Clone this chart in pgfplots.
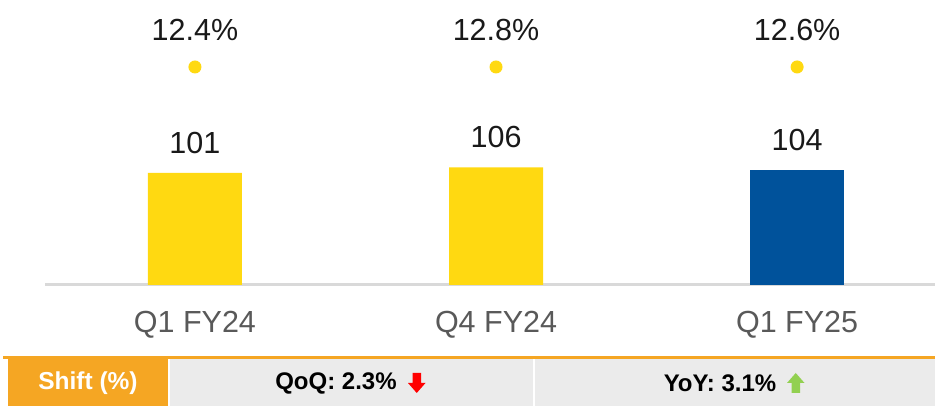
\documentclass[border=0pt]{standalone}
\usepackage{pgfplots}
\pgfplotsset{compat=1.18}
\usepackage{pgfplotstable}
\usepackage{fontspec}
\setmainfont{Liberation Sans}
\definecolor{cyel}{HTML}{FFD911}
\definecolor{cblue}{HTML}{00529B}
\definecolor{corange}{HTML}{F5A623}
\definecolor{cgray}{HTML}{EBEBEB}
\definecolor{cline}{HTML}{D9D9D9}
\definecolor{ctick}{HTML}{595959}
\definecolor{cred}{HTML}{FF0000}
\definecolor{cgreen}{HTML}{92D050}
\pgfplotstableread{
x y
0 101
1 106
}\yellowbars
\pgfplotstableread{
x y
2 104
}\bluebars
\pgfplotstableread{
x y label
0 196.6 12.4\%
1 196.6 12.8\%
2 196.6 12.6\%
}\dots
\begin{document}
\begin{tikzpicture}
\path[use as bounding box] (0,0) rectangle (374pt,-162.4pt);
\begin{axis}[
  at={(18pt,-114pt)}, anchor=south west,
  scale only axis, width=356pt, height=114pt,
  xmin=-0.498, xmax=2.458, ymin=0, ymax=257,
  clip=false,
  /pgf/number format/assume math mode=true,
  axis x line=bottom, axis y line=none,
  x axis line style={-, draw=cline, line width=1.2pt},
  xtick={0,1,2}, xticklabels={Q1 FY24,Q4 FY24,Q1 FY25},
  major tick length=0pt,
  xticklabel style={anchor=center, yshift=-16pt, font=\fontsize{12.2}{14}\selectfont, text=ctick},
]
\addplot[ybar, bar width=37.6pt, bar shift=0pt, fill=cyel, draw=none,
  nodes near coords, every node near coord/.append style={anchor=center, yshift=12pt, font=\fontsize{12.2}{14}\selectfont, text=black!90}]
  table[x=x,y=y] {\yellowbars};
\addplot[ybar, bar width=37.6pt, bar shift=0pt, fill=cblue, draw=none,
  nodes near coords, every node near coord/.append style={anchor=center, yshift=12pt, font=\fontsize{12.2}{14}\selectfont, text=black!90}]
  table[x=x,y=y] {\bluebars};
\addplot[only marks, mark=*, mark size=2.4pt, mark options={fill=cyel, draw=cyel},
  point meta=explicit symbolic,
  nodes near coords, every node near coord/.append style={anchor=center, yshift=14.8pt, font=\fontsize{12.2}{14}\selectfont, text=black!90}]
  table[x=x,y=y,meta=label] {\dots};
\end{axis}
\begin{scope}[x=0.4pt,y=-0.4pt]
\fill[corange] (3,356.5) rectangle (935,359.5);
\fill[corange] (8,359.5) rectangle (168,406);
\fill[cgray] (170,359.5) rectangle (533,406);
\fill[cgray] (535,359.5) rectangle (935,406);
\node[text=white, font=\fontsize{9.8}{12}\selectfont\bfseries] at (88,383) {Shift (\%)};
\node[text=black, font=\fontsize{9.6}{12}\selectfont\bfseries] at (336,383) {QoQ: 2.3\%};
\node[text=black, font=\fontsize{9.6}{12}\selectfont\bfseries] at (720,383) {YoY: 3.1\%};
% red down arrow
\fill[cred] (412.5,373) -- (421,373) -- (421,383) -- (425.5,383) -- (416.75,393) -- (408,383) -- (412.5,383) -- cycle;
% green up arrow
\fill[cgreen] (791.5,393) -- (800,393) -- (800,383) -- (804.5,383) -- (795.75,373) -- (787,383) -- (791.5,383) -- cycle;
\end{scope}
\end{tikzpicture}
\end{document}
